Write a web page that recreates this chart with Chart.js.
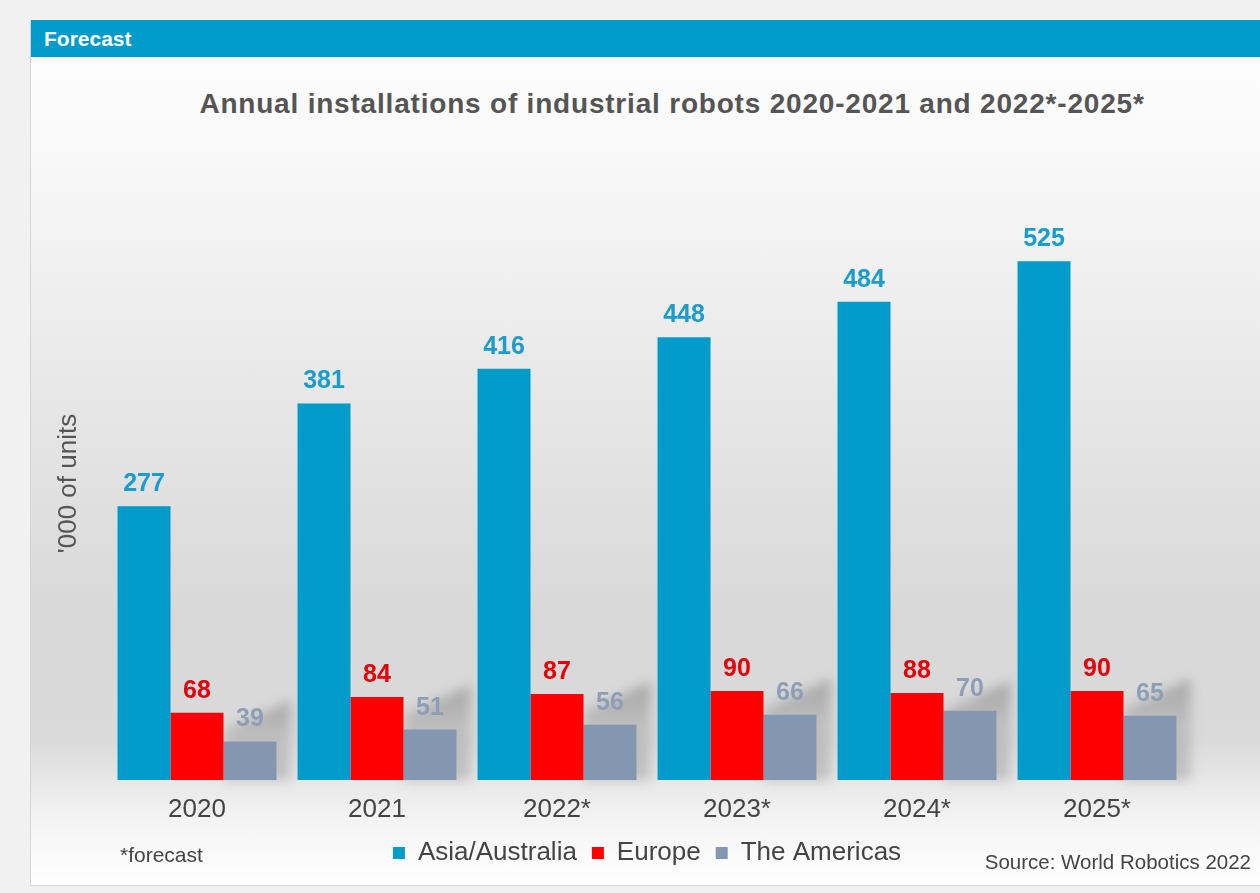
<!DOCTYPE html>
<html>
<head>
<meta charset="utf-8">
<script src="https://cdn.jsdelivr.net/npm/chart.js"></script>
<style>
  html, body { margin: 0; padding: 0; }
  body {
    width: 1260px; height: 893px; overflow: hidden;
    background: #f1f1f1;
    font-family: "Liberation Sans", Arial, sans-serif;
    position: relative;
  }
  #card {
    position: absolute; left: 30px; top: 20px; width: 1260px; height: 865px;
    border-left: 1px solid #d6d6d6; border-bottom: 1px solid #d6d6d6;
    background: linear-gradient(to bottom, #ffffff 0px, #f8f8f8 140px, #e8e8e8 360px,
      #d8d8d8 600px, #dadada 720px, #f4f4f4 800px, #ffffff 865px);
  }
  #header {
    position: absolute; left: 0; top: 0; width: 100%; height: 37px;
    background: #009bcb; color: #fff; font-weight: bold; font-size: 21px;
    line-height: 37px; padding-left: 13px; box-sizing: border-box;
  }
  #title {
    position: absolute; left: 0; width: 1282px; top: 68px; text-align: center;
    font-weight: bold; font-size: 28px; color: #555; letter-spacing: 0.8px;
  }
  #wrap { position: absolute; left: 0; top: 37px; width: 1230px; height: 828px; }
  .note { position: absolute; color: #444; white-space: nowrap; }
</style>
</head>
<body>
<div id="card">
  <div id="header">Forecast</div>
  <div id="title">Annual installations of industrial robots 2020-2021 and 2022*-2025*</div>
  <div id="wrap"><canvas id="chart"></canvas></div>
  <div class="note" style="left:89px; top:823px; font-size:21px;">*forecast</div>
  <div class="note" style="right:40px; top:830px; font-size:20.5px;">Source: World Robotics 2022</div>
</div>
<script>
const years = ["2020", "2021", "2022*", "2023*", "2024*", "2025*"];
const asia = [277, 381, 416, 448, 484, 525];
const europe = [68, 84, 87, 90, 88, 90];
const americas = [39, 51, 56, 66, 70, 65];

const barColors = ["#009bcb", "#ff0000", "#8497b0"];
const labelColors = ["#1a9ccc", "#e4000a", "#8e9eb6"];

// soft cast shadow behind the Europe / Americas bars of each year
const groupShadows = {
  id: "groupShadows",
  beforeDatasetsDraw(chart) {
    const ctx = chart.ctx;
    const eu = chart.getDatasetMeta(1).data;
    const am = chart.getDatasetMeta(2).data;
    ctx.save();
    ctx.filter = "blur(6px)";
    eu.forEach((e, j) => {
      const a = am[j];
      const eRight = e.x + e.width / 2;
      const aRight = a.x + a.width / 2;
      const g = ctx.createLinearGradient(0, e.y - 12, 0, e.base);
      g.addColorStop(0, "rgba(0, 0, 0, 0.24)");
      g.addColorStop(0.45, "rgba(0, 0, 0, 0.12)");
      g.addColorStop(1, "rgba(0, 0, 0, 0.16)");
      ctx.fillStyle = g;
      ctx.beginPath();
      ctx.moveTo(eRight, e.y + 18);
      ctx.lineTo(aRight + 14, e.y - 12);
      ctx.lineTo(aRight + 14, e.base);
      ctx.lineTo(eRight, e.base);
      ctx.closePath();
      ctx.fill();
    });
    ctx.restore();
  },
};

const valueLabels = {
  id: "valueLabels",
  afterDatasetsDraw(chart) {
    const ctx = chart.ctx;
    ctx.save();
    ctx.font = "bold 25px 'Liberation Sans', Arial, sans-serif";
    ctx.textAlign = "center";
    ctx.textBaseline = "alphabetic";
    chart.data.datasets.forEach((ds, i) => {
      chart.getDatasetMeta(i).data.forEach((bar, j) => {
        ctx.fillStyle = labelColors[i];
        ctx.fillText(ds.data[j], bar.x, bar.y - 15);
      });
    });
    ctx.restore();
  },
};

new Chart(document.getElementById("chart"), {
  type: "bar",
  data: {
    labels: years,
    datasets: [
      { label: "Asia/Australia", data: asia, backgroundColor: barColors[0] },
      { label: "Europe", data: europe, backgroundColor: barColors[1] },
      { label: "The Americas", data: americas, backgroundColor: barColors[2] },
    ],
  },
  options: {
    responsive: true,
    maintainAspectRatio: false,
    animation: false,
    categoryPercentage: 0.883,
    barPercentage: 1.0,
    layout: { padding: { top: 130, left: 18, right: 74, bottom: 9 } },
    scales: {
      x: {
        grid: { display: false, drawTicks: false },
        border: { display: false },
        ticks: { color: "#444", padding: 14, font: { size: 26, family: "'Liberation Sans', Arial" } },
        afterFit(scale) { scale.height = 45; },
      },
      y: {
        min: 0,
        max: 600,
        grid: { display: false, drawTicks: false },
        border: { display: false },
        ticks: { display: false },
        title: {
          display: true,
          text: "'000 of units",
          color: "#555",
          font: { size: 26, family: "'Liberation Sans', Arial" },
        },
        afterFit(scale) { scale.width = 58; },
      },
    },
    plugins: {
      legend: {
        position: "bottom",
        fullSize: false,
        labels: {
          boxWidth: 12,
          boxHeight: 12,
          padding: 15,
          color: "#444",
          font: { size: 26, family: "'Liberation Sans', Arial" },
        },
      },
      tooltip: { enabled: false },
    },
  },
  plugins: [groupShadows, valueLabels],
});
</script>
</body>
</html>
